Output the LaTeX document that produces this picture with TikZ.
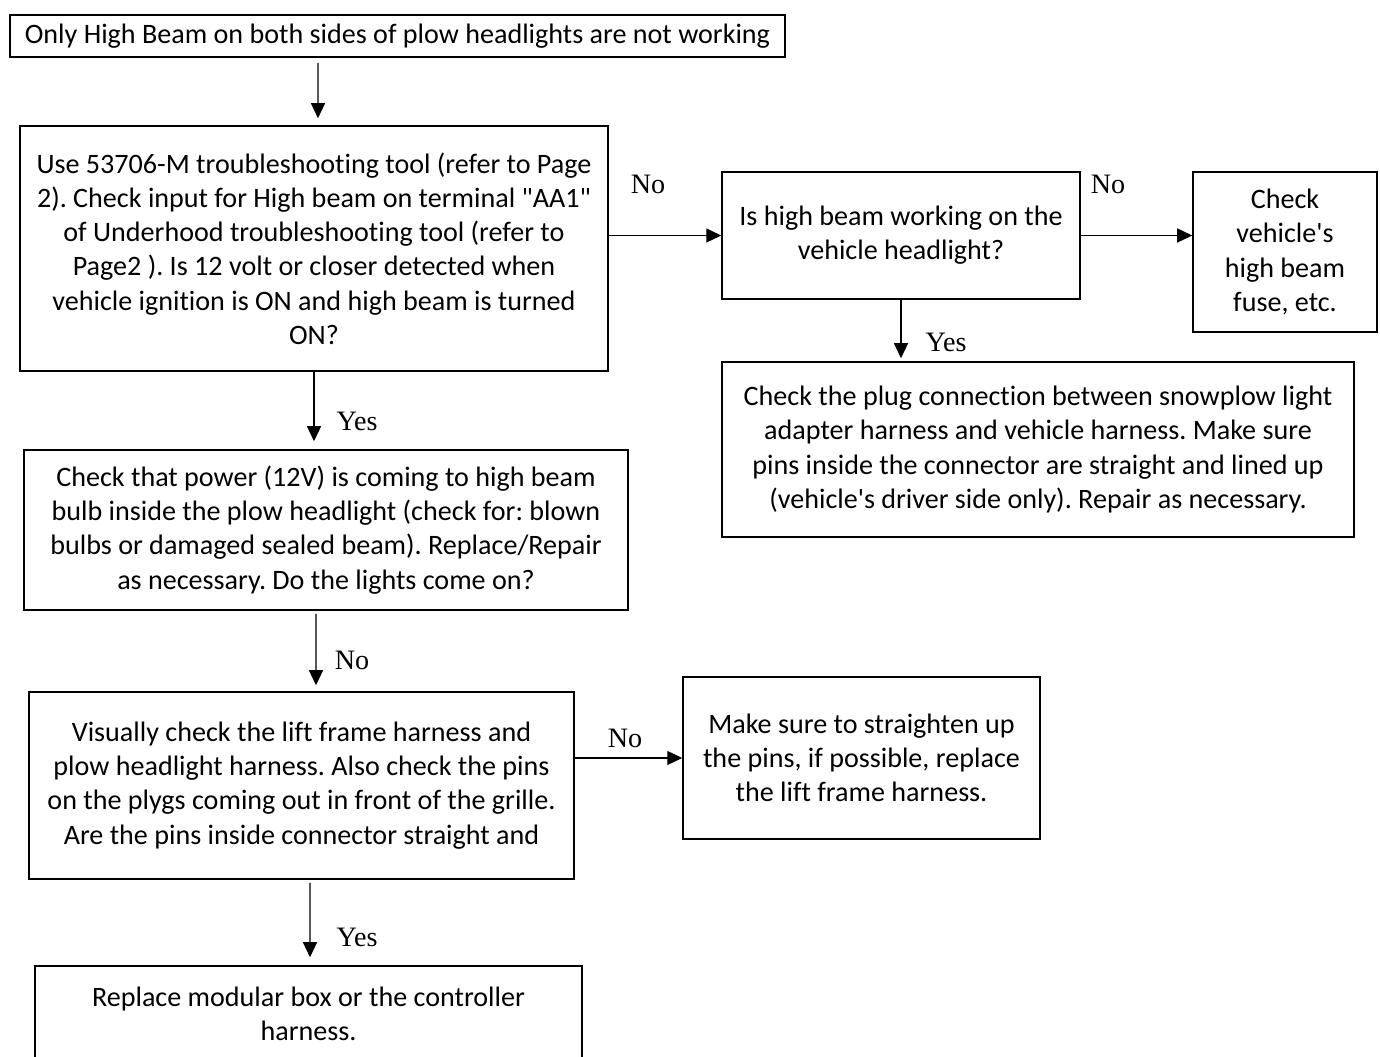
\documentclass[tikz,border=0pt]{standalone}
\usepackage{fontspec}
\setmainfont{Carlito}[Ligatures=NoCommon]
\newfontfamily\answerfont{Liberation Serif}
\usetikzlibrary{arrows.meta}
\frenchspacing

\begin{document}
\begin{tikzpicture}[
x=0.02cm, y=-0.02cm,
font=\fontsize{16}{19.5}\selectfont,
box/.style={draw, line width=0.9pt, align=center, inner sep=0pt},
arr/.style={-{Triangle[length=0.3cm, width=0.28cm]}, line width=0.75pt},
answer/.style={font=\answerfont\fontsize{16}{19}\selectfont, inner sep=0pt}
]
\useasboundingbox (0,0) rectangle (1380,1057);

\node[box, minimum width=15.5cm, minimum height=0.84cm] (top) at (397.5,36) {Only High Beam on both sides of plow headlights are not working};
\node[box, minimum width=11.76cm, minimum height=4.9cm] (tool) at (314,248.5) {Use 53706-M troubleshooting tool (refer to Page\\2). Check input for High beam on terminal \textquotedbl AA1\textquotedbl\\of Underhood troubleshooting tool (refer to\\Page2 ). Is 12 volt or closer detected when\\vehicle ignition is ON and high beam is turned\\ON?};
\node[box, minimum width=7.16cm, minimum height=2.54cm] (veh) at (901,235.5) {Is high beam working on the\\vehicle headlight?};
\node[box, minimum width=3.68cm, minimum height=3.2cm] (fuse) at (1285,252) {Check\\vehicle\textquotesingle s\\high beam\\fuse, etc.};
\node[box, minimum width=12.64cm, minimum height=3.5cm] (plug) at (1038,449.5) {Check the plug connection between snowplow light\\adapter harness and vehicle harness. Make sure\\pins inside the connector are straight and lined up\\(vehicle\textquotesingle s driver side only). Repair as necessary.};
\node[box, minimum width=12.08cm, minimum height=3.2cm] (power) at (326,530) {Check that power (12V) is coming to high beam\\bulb inside the plow headlight (check for: blown\\bulbs or damaged sealed beam). Replace/Repair\\as necessary. Do the lights come on?};
\node[box, minimum width=10.9cm, minimum height=3.74cm] (visual) at (301.5,785.5) {Visually check the lift frame harness and\\plow headlight harness. Also check the pins\\on the plygs coming out in front of the grille.\\Are the pins inside connector straight and};
\node[box, minimum width=7.14cm, minimum height=3.24cm] (pins) at (861.5,758) {Make sure to straighten up\\the pins, if possible, replace\\the lift frame harness.};
\node[box, minimum width=10.94cm, minimum height=1.9cm] (repl) at (308.5,1013.5) {Replace modular box or the controller\\harness.};

% answers
\node[answer] (ans1) at (648,184) {No};
\node[answer] (ans2) at (1108,184) {No};
\node[answer] (ans3) at (946,342) {Yes};
\node[answer] (ans4) at (357,421) {Yes};
\node[answer] (ans5) at (352,660) {No};
\node[answer] (ans6) at (625,738) {No};
\node[answer] (ans7) at (357,937) {Yes};

\draw[arr, shorten <=0.1cm, shorten >=0.14cm] ([xshift=-1.59cm]top.south) -- ([xshift=0.08cm]tool.north);
\draw[arr] (tool.east |- veh.west) -- (veh.west);
\draw[arr] (veh.east) -- (fuse.west |- veh.east);
\draw[arr, shorten >=0.06cm] (veh.south) -- (plug.north -| veh.south);
\draw[arr, shorten >=0.16cm] (tool.south) -- (power.north -| tool.south);
\draw[arr, shorten <=0.06cm, shorten >=0.12cm] ([xshift=-0.2cm]power.south) -- ([xshift=0.29cm]visual.north);
\draw[arr] (visual.east |- pins.west) -- (pins.west);
\draw[arr, shorten <=0.06cm, shorten >=0.16cm] ([xshift=0.17cm]visual.south) -- ([xshift=0.03cm]repl.north);
\end{tikzpicture}
\end{document}
